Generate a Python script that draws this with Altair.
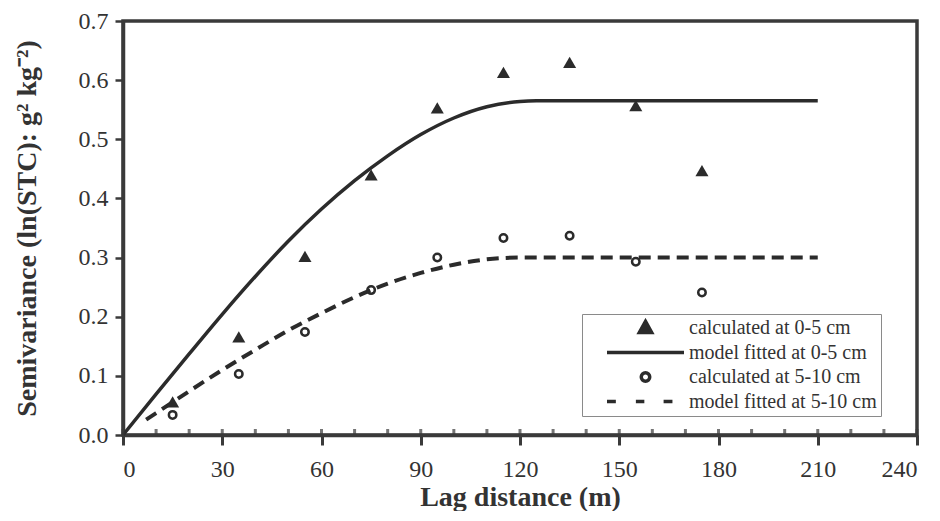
import altair as alt
import pandas as pd

# ---- data ----
lag = [15, 35, 55, 75, 95, 115, 135, 155, 175]
calc_0_5 = [0.056, 0.166, 0.302, 0.440, 0.553, 0.613, 0.630, 0.557, 0.447]
calc_5_10 = [0.034, 0.103, 0.174, 0.245, 0.300, 0.333, 0.337, 0.293, 0.241]

model_x_0_5 = [0, 10, 20, 30, 40, 50, 60, 70, 80, 90, 100, 110, 120, 125, 210]
model_y_0_5 = [0.0, 0.069, 0.137, 0.204, 0.268, 0.328, 0.382, 0.430, 0.472,
               0.508, 0.536, 0.555, 0.564, 0.565, 0.565]

model_x_5_10 = [7, 10, 20, 30, 40, 50, 60, 70, 80, 90, 100, 110, 120, 210]
model_y_5_10 = [0.026, 0.037, 0.074, 0.110, 0.144, 0.177, 0.206, 0.233, 0.256,
                0.274, 0.288, 0.297, 0.300, 0.300]

x_ticks = [0, 30, 60, 90, 120, 150, 180, 210, 240]
x_minor = [0, 10, 20, 30, 40, 50, 60, 70, 80, 90, 100, 110, 120, 130, 140, 150,
           160, 170, 180, 190, 200, 210, 220, 230, 240]
y_ticks = [0.0, 0.1, 0.2, 0.3, 0.4, 0.5, 0.6, 0.7]

legend_labels = ["calculated at 0-5 cm", "model fitted at 0-5 cm",
                 "calculated at 5-10 cm", "model fitted at 5-10 cm"]

INK = "#2b2b2b"
AXIS = "#3a3a3a"
FONT = "Times New Roman, Liberation Serif, serif"

pts1 = pd.DataFrame({"lag": lag, "gamma": calc_0_5})
pts2 = pd.DataFrame({"lag": lag, "gamma": calc_5_10})
mod1 = pd.DataFrame({"lag": model_x_0_5, "gamma": model_y_0_5})
mod2 = pd.DataFrame({"lag": model_x_5_10, "gamma": model_y_5_10})
minor = pd.DataFrame({"lag": x_minor, "gamma": [0.0] * len(x_minor)})
leg_df = pd.DataFrame({"series": legend_labels,
                       "lag": [None] * 4, "gamma": [None] * 4})

xscale = alt.Scale(domain=[0, 240], nice=False, zero=False)
yscale = alt.Scale(domain=[0, 0.7], nice=False)

xenc = alt.X("lag:Q", scale=xscale,
             axis=alt.Axis(values=x_ticks, title="Lag distance (m)", grid=False,
                           tickSize=10, tickWidth=3, labelPadding=12,
                           titlePadding=2, format="d",
                           labelFont=FONT, titleFont=FONT, titleFontSize=28))
yenc = alt.Y("gamma:Q", scale=yscale,
             axis=alt.Axis(values=y_ticks, format=".1f", grid=False,
                           title="Semivariance (ln(STC): g² kg⁻²)",
                           tickSize=8, tickWidth=2.5, labelPadding=7,
                           titlePadding=37, labelFont=FONT, titleFont=FONT,
                           titleFontSize=28))

line_model1 = alt.Chart(mod1).mark_line(
    color=INK, strokeWidth=3.5, interpolate="monotone"
).encode(x=xenc, y=yenc)

line_model2 = alt.Chart(mod2).mark_line(
    color=INK, strokeWidth=4, strokeDash=[12, 7], interpolate="monotone"
).encode(x="lag:Q", y="gamma:Q")

tri = alt.Chart(pts1).mark_point(
    shape="triangle-up", filled=True, size=170, color=INK, opacity=1
).encode(x="lag:Q", y="gamma:Q")

circ = alt.Chart(pts2).mark_point(
    shape="circle", filled=False, size=56, color=INK, strokeWidth=2.5, opacity=1
).encode(x="lag:Q", y="gamma:Q")

minor_ticks = alt.Chart(minor).mark_tick(
    orient="vertical", color=AXIS, size=7, thickness=3, yOffset=-2.5
).encode(x="lag:Q", y="gamma:Q")

paths = [
    "M0,-0.17L0.16,0.12L-0.16,0.12Z",
    "M-1,0H1",
    "M-0.11,0A0.11,0.11,0,1,0,0.11,0A0.11,0.11,0,1,0,-0.11,0Z",
    "M-1,0H-0.77M-0.25,0H-0.03M0.47,0H0.7",
]
fills = [INK, "transparent", "white", "transparent"]
strokes = [INK, INK, INK, INK]

leg = alt.Legend(title=None, orient="none", legendX=459, legendY=293,
                 strokeColor="#8a8a8a", fillColor="white", padding=4,
                 labelFont=FONT, labelFontSize=20, labelColor="#333333",
                 labelLimit=400,
                 symbolStrokeColor=INK, symbolStrokeWidth=3.5, symbolSize=5929,
                 symbolOpacity=1, symbolOffset=19,
                 clipHeight=20, rowPadding=4.5, labelOffset=3)

legend_layer = alt.Chart(leg_df).mark_point(
    size=5929, filled=False, strokeWidth=3.5, opacity=1
).encode(
    x="lag:Q", y="gamma:Q",
    shape=alt.Shape("series:N", scale=alt.Scale(domain=legend_labels, range=paths), legend=leg),
    fill=alt.Fill("series:N", scale=alt.Scale(domain=legend_labels, range=fills), legend=leg),
    stroke=alt.Stroke("series:N", scale=alt.Scale(domain=legend_labels, range=strokes), legend=leg),
)

chart = alt.layer(
    line_model1, line_model2, tri, circ, minor_ticks, legend_layer
).properties(
    width=794, height=414,
    padding={"left": 5, "top": 1, "right": 0, "bottom": 0},
    background="white",
).configure_view(
    stroke=AXIS, strokeWidth=3.5
).configure_axis(
    domainColor=AXIS, domainWidth=3.5, tickColor=AXIS,
    labelFont=FONT, labelFontSize=24, labelColor="#333333",
    titleFont=FONT, titleFontSize=28, titleFontWeight="bold", titleColor="#333333",
).configure_legend(
    labelFont=FONT
)

chart.save("out.html", embed_options={"renderer": "svg", "actions": False})
